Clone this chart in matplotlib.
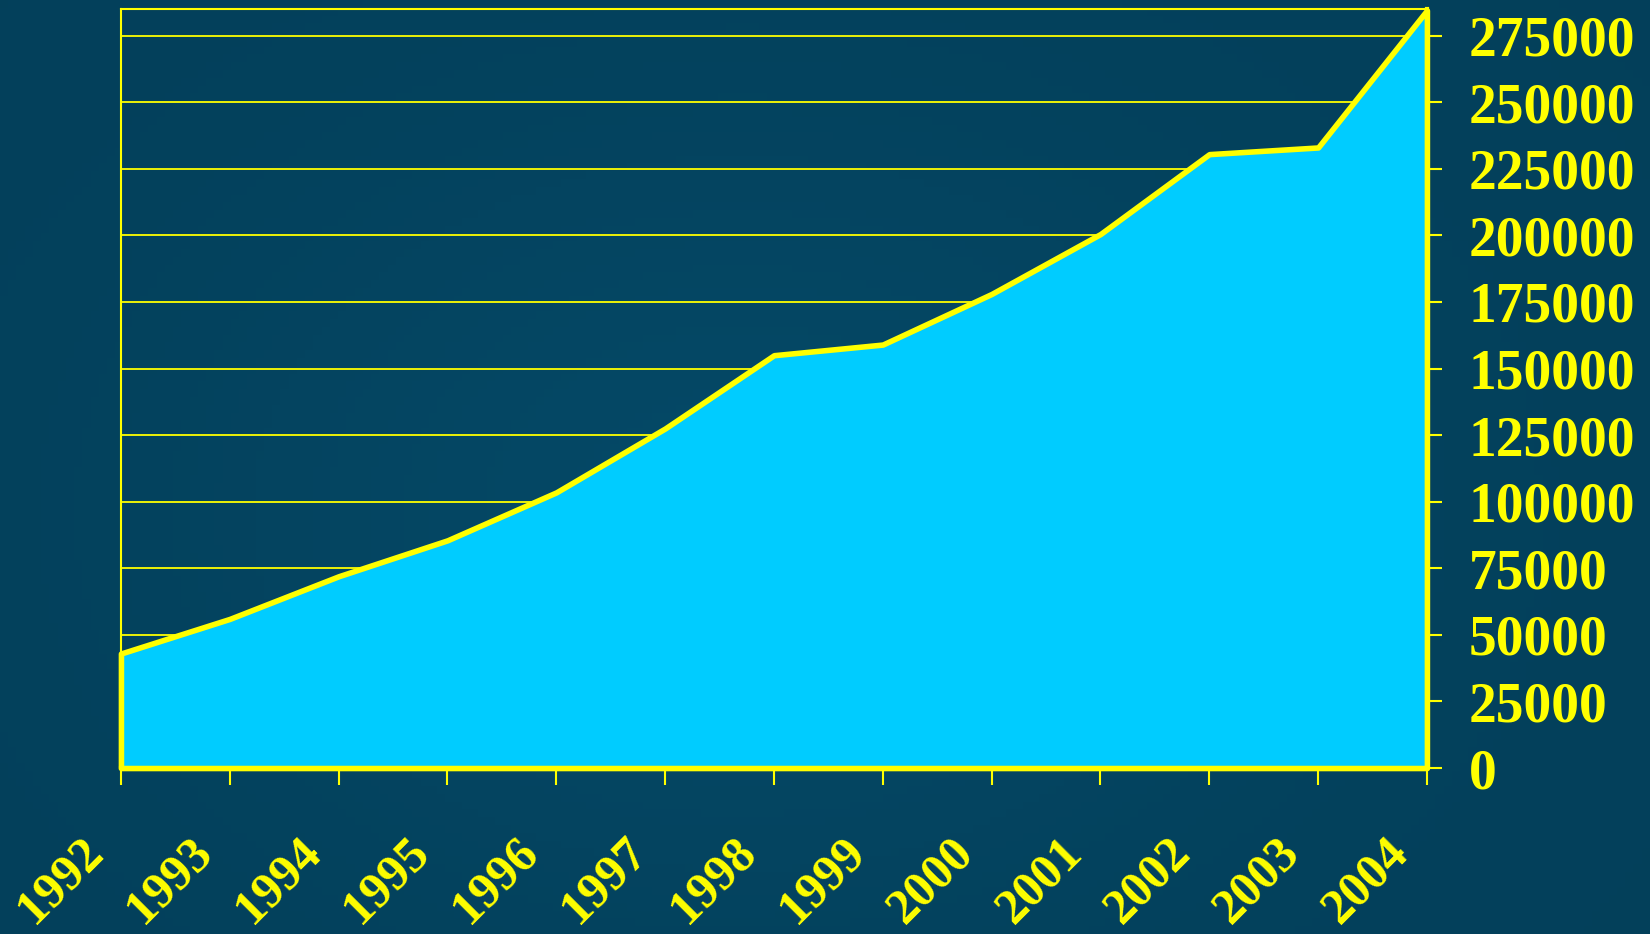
import matplotlib.pyplot as plt
import matplotlib.transforms as mtransforms
import numpy as np

# values
years = [1992, 1993, 1994, 1995, 1996, 1997, 1998, 1999, 2000, 2001, 2002, 2003, 2004]
values = [43000, 56000, 72000, 85500, 103500, 127500, 155000, 159000, 178000, 200500, 230500, 233000, 284500]
y_ticks = [0, 25000, 50000, 75000, 100000, 125000, 150000, 175000, 200000, 225000, 250000, 275000]

yellow = '#FFFF00'
cyan = '#00CCFF'

fig = plt.figure(figsize=(16.5, 9.34), dpi=100)

# dark blue background with a soft gradient
bg = fig.add_axes([0, 0, 1, 1], zorder=-10)
gx, gy = np.meshgrid(np.linspace(0, 1, 200), np.linspace(0, 1, 120))
shade = 0.5 + 0.5 * np.exp(-((gx - 0.45) ** 2 / 0.12 + (gy - 0.55) ** 2 / 0.2))
rgb = np.zeros((120, 200, 3))
rgb[..., 0] = 0.005 + 0.015 * shade
rgb[..., 1] = 0.215 + 0.07 * shade
rgb[..., 2] = 0.31 + 0.09 * shade
bg.imshow(rgb, aspect='auto', extent=[0, 1, 0, 1])
bg.axis('off')

ax = fig.add_axes([0.0733, 0.1777, 0.7915, 0.8127])
ax.set_facecolor('none')

ax.fill_between(years, values, 0, facecolor=cyan, edgecolor=yellow,
                linewidth=4, zorder=3, clip_on=False)

ax.set_xlim(1992, 2004)
ax.set_ylim(0, 285000)

for v in y_ticks[1:]:
    ax.axhline(v, color=yellow, linewidth=1.3, zorder=1)

for side in ['top', 'left']:
    ax.spines[side].set_color(yellow)
    ax.spines[side].set_linewidth(1.5)
for side in ['right', 'bottom']:
    ax.spines[side].set_color(yellow)
    ax.spines[side].set_linewidth(3)

font = dict(family='Liberation Serif', weight='bold', size=40)
xfont = dict(family='Liberation Serif', weight='bold', size=36)

ax.yaxis.tick_right()
ax.set_yticks(y_ticks)
ax.set_yticklabels([str(v) for v in y_ticks], color=yellow, fontdict=font)
ax.tick_params(axis='y', direction='out', length=11, width=1.5, color=yellow, pad=19)

ax.set_xticks(years)
ax.set_xticklabels([str(y) for y in years], color=yellow, fontdict=xfont,
                   rotation=45, ha='right', va='top')
ax.tick_params(axis='x', direction='out', length=12, width=1.5, color=yellow, pad=32)
shift = mtransforms.ScaledTranslation(-0.09, 0, fig.dpi_scale_trans)
for lab in ax.get_xticklabels():
    lab.set_transform(lab.get_transform() + shift)

fig.savefig('out.png', dpi=100)
